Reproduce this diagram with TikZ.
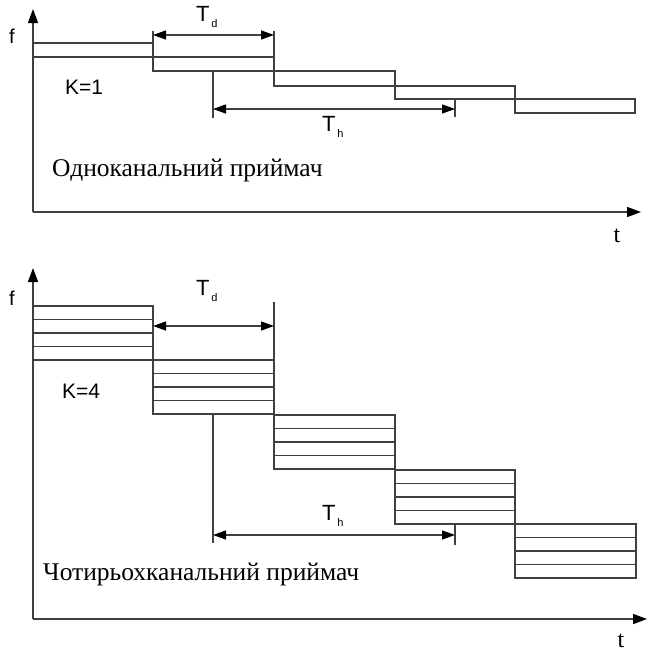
\documentclass[tikz,border=0pt]{standalone}
\usepackage{fontspec}
\setmainfont{Liberation Serif}
\newfontfamily\arialf{Liberation Sans}
\usetikzlibrary{arrows.meta}
\definecolor{ln}{HTML}{404040}
\tikzset{
  x=1pt,y=-1pt,
  band/.style={draw=ln,line width=1.3pt},
  axisline/.style={draw=ln,line width=1.5pt,-{Triangle[length=14pt,width=10pt,color=black]}},
  dim/.style={draw=ln,line width=1.3pt,{Triangle[length=13pt,width=9pt,color=black]}-{Triangle[length=13pt,width=9pt,color=black]}},
  lab/.style={font=\arialf\fontsize{21}{22}\selectfont,inner sep=0pt},
  flab/.style={font=\arialf\fontsize{20}{22}\selectfont,inner sep=0pt},
  tt/.style={font=\fontsize{24}{26}\selectfont,inner sep=0pt},
  tlab/.style={font=\arialf\fontsize{22}{24}\selectfont,inner sep=0pt,anchor=west},
  captext/.style={font=\fontsize{25.5}{28}\selectfont,inner sep=0pt,anchor=west},
}
\newcommand{\Tsub}[1]{T\raisebox{-6pt}{\fontsize{11}{11}\selectfont\,#1}}
\begin{document}
\begin{tikzpicture}
\useasboundingbox (0,0) rectangle (648,653);
% ---------- top diagram ----------
\coordinate (o1) at (33,212);
\coordinate (yt1) at (33,9);
\coordinate (xt1) at (641,212);
\draw[axisline] (o1) -- (yt1);
\draw[axisline] (o1) -- (xt1);
\node[flab] (f1) at (12,36) {f};
\node[tt] (t1) at (617,236) {t};
% boxes
\draw[band] (33,43) rectangle (153,57);
\draw[band] (153,57) rectangle (274,71);
\draw[band] (274,71) rectangle (395,86);
\draw[band] (395,86) rectangle (515,99);
\draw[band] (515,99) rectangle (635,113);
% Td
\coordinate (a1) at (153,31);
\coordinate (b1) at (274,31);
\draw[band] (a1) -- (153,57);
\draw[band] (b1) -- (274,71);
\coordinate (tdl1) at (153,35);
\coordinate (tdr1) at (274,35);
\draw[dim] (tdl1) -- (tdr1);
\node[tlab] (Td1) at (196,17) {\Tsub{d}};
% Th
\coordinate (c1) at (213,71);
\coordinate (c1b) at (213,118);
\draw[band] (c1) -- (c1b);
\coordinate (d1) at (455,99);
\coordinate (d1b) at (455,117);
\draw[band] (d1) -- (d1b);
\coordinate (thl1) at (213,109);
\coordinate (thr1) at (455,109);
\draw[dim] (thl1) -- (thr1);
\node[tlab] (Th1) at (322,127) {\Tsub{h}};
\node[lab] (K1) at (84,87) {K=1};
\node[captext] (cap1) at (52,170) {Одноканальний приймач};
% ---------- bottom diagram ----------
\coordinate (o2) at (33,619);
\coordinate (yt2) at (33,268);
\coordinate (xt2) at (647,619);
\draw[axisline] (o2) -- (yt2);
\draw[axisline] (o2) -- (xt2);
\node[flab] (f2) at (12,298) {f};
\node[tt] (t2) at (621,641) {t};
\foreach \i/\xa/\xb/\yt in {0/33/153/306, 1/153/274/360, 2/274/395/415, 3/395/515/470, 4/515/636/524}{
  \draw[band] (\xa,\yt) rectangle (\xb,\yt+54);
  \foreach \k in {1,2,3}{
    \draw[band] (\xa,\yt+13.5*\k) -- (\xb,\yt+13.5*\k);
  }
}
% Td
\coordinate (b2) at (274,302);
\draw[band] (b2) -- (274,360);
\coordinate (tdl2) at (153,326);
\coordinate (tdr2) at (274,326);
\draw[dim] (tdl2) -- (tdr2);
\node[tlab] (Td2) at (196,291) {\Tsub{d}};
% Th
\coordinate (c2) at (213,414);
\coordinate (c2b) at (213,543);
\draw[band] (c2) -- (c2b);
\coordinate (d2) at (455,524);
\coordinate (d2b) at (455,545);
\draw[band] (d2) -- (d2b);
\coordinate (thl2) at (213,535);
\coordinate (thr2) at (455,535);
\draw[dim] (thl2) -- (thr2);
\node[tlab] (Th2) at (322,516) {\Tsub{h}};
\node[lab] (K2) at (81,391) {K=4};
\node[captext] (cap2) at (43,574) {Чотирьохканальний приймач};
\end{tikzpicture}
\end{document}
